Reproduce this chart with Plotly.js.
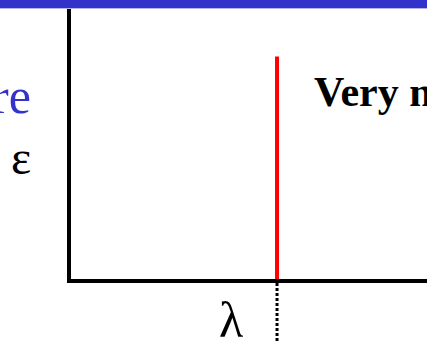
<!DOCTYPE html>
<html>
<head>
<meta charset="utf-8">
<script src="https://cdn.plot.ly/plotly-3.0.1.min.js"></script>
<style>html,body{margin:0;padding:0;background:#fff;}#chart{width:427px;height:342px;}</style>
</head>
<body>
<div id="chart"></div>
<script>
// Diagram values (axis units: x and y both 0..1)
const xRange = [0, 1];
const yRange = [0, 1];
const lambdaX = [0.5787, 0.5787];      // position of the narrow line (λ)
const lineHeight = [0, 0.8237];        // red line from axis up to this height
const labels = {
  title: "re",
  epsilon: "ε",
  lambda: "λ",
  note: "Very n"
};

const L = 71, T = 9, W = 427 - 71, B = 279.5, H = B - T;
const py = p => (B - p) / H;
const px = p => (p - L) / W;

const serif = "Liberation Serif, Times New Roman, serif";

const traces = [{
  type: "scatter",
  mode: "lines",
  x: lambdaX,
  y: lineHeight,
  line: {color: "#ff0000", width: 4},
  hoverinfo: "skip",
  showlegend: false
}];

const layout = {
  width: 427, height: 342,
  margin: {l: L, r: 0, t: T, b: 342 - B, pad: 0},
  paper_bgcolor: "#ffffff",
  plot_bgcolor: "#ffffff",
  showlegend: false,
  xaxis: {range: xRange, showline: true, linecolor: "#000", linewidth: 4,
          showgrid: false, zeroline: false, showticklabels: false, ticks: "", fixedrange: true},
  yaxis: {range: yRange, showline: true, linecolor: "#000", linewidth: 4,
          showgrid: false, zeroline: false, showticklabels: false, ticks: "", fixedrange: true},
  shapes: [
    {type: "rect", xref: "paper", yref: "paper", x0: px(-5), x1: px(432), y0: py(8), y1: py(-5),
     fillcolor: "#3333CC", line: {width: 0}, layer: "above"},
    {type: "rect", xref: "paper", yref: "paper", x0: px(-5), x1: px(432), y0: py(9), y1: py(8),
     fillcolor: "#B4B4E6", line: {width: 0}, layer: "above"},
    {type: "line", xref: "x", yref: "paper", x0: lambdaX[0], x1: lambdaX[0], y0: py(283.5), y1: py(345),
     line: {color: "#000", width: 3, dash: "3px,2px"}}
  ],
  annotations: [
    {xref: "paper", yref: "paper", x: px(33), y: py(96), xanchor: "right", yanchor: "middle",
     text: labels.title, showarrow: false, font: {family: serif, size: 50, color: "#3333CC"}},
    {xref: "paper", yref: "paper", x: px(21), y: py(158), xanchor: "center", yanchor: "middle",
     text: labels.epsilon, showarrow: false, font: {family: serif, size: 48, color: "#000"}},
    {xref: "paper", yref: "paper", x: px(231), y: py(321), xanchor: "center", yanchor: "middle",
     text: labels.lambda, showarrow: false, font: {family: serif, size: 50, color: "#000"}},
    {xref: "paper", yref: "paper", x: px(312), y: py(92), xanchor: "left", yanchor: "middle",
     text: "<b>" + labels.note + "</b>", showarrow: false, font: {family: serif, size: 42, color: "#000"}}
  ]
};

Plotly.newPlot("chart", traces, layout, {displayModeBar: false, staticPlot: true});
</script>
</body>
</html>
